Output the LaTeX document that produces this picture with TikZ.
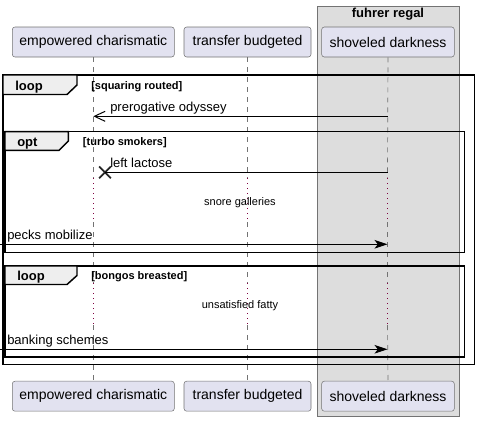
\documentclass[tikz,border=0pt]{standalone}
\usepackage{fontspec}
\setmainfont{Liberation Sans}
\usetikzlibrary{arrows.meta,%
                shapes.misc}
\definecolor{partfill}{HTML}{E2E2F0}
\definecolor{groupfill}{HTML}{DDDDDD}
\definecolor{tabfill}{HTML}{EEEEEE}
\definecolor{delaydot}{HTML}{800040}

\begin{document}
\begin{tikzpicture}[x=0.75pt,y=-0.75pt]
		\tikzstyle{Participant}=[draw=black!55,fill=partfill,rounded corners=2pt,
			minimum height=22.5pt,inner sep=0pt,font=\fontsize{10.5}{12}\selectfont]
		\tikzstyle{LifeLine}=[draw=black!55,line width=0.5pt,dash pattern=on 3.75pt off 3.75pt]
		\tikzstyle{DelayLine}=[draw=delaydot,line width=0.6pt,dash pattern=on 0.75pt off 3pt]
		\tikzstyle{Frame}=[draw=black,line width=1.1pt]
		\tikzstyle{FrameTab}=[draw=black,line width=1.1pt,fill=tabfill]
		\tikzstyle{FrameName}=[anchor=base west,inner sep=0pt,font=\bfseries\fontsize{9.75}{11}\selectfont]
		\tikzstyle{Guard}=[anchor=base west,inner sep=0pt,font=\bfseries\fontsize{8.25}{10}\selectfont]
		\tikzstyle{MsgLabel}=[anchor=base west,inner sep=0pt,font=\fontsize{9.75}{11}\selectfont]
		\tikzstyle{DelayLabel}=[anchor=base,inner sep=0pt,font=\fontsize{8.25}{10}\selectfont]
		\tikzstyle{Msg}=[draw=black,line width=0.75pt]
		\useasboundingbox (0,0) rectangle (479,421);

		% box
		\draw[fill=groupfill,draw=black!55,line width=0.5pt] (317.3,6) rectangle (459,416);
		\node[anchor=base,inner sep=0pt,font=\bfseries\fontsize{9.75}{11}\selectfont] (Group) at (388,17.5) {fuhrer regal};

		% participants
		\node[Participant,minimum width=121.5pt] (Ptop) at (93.3,42) {empowered charismatic};
		\node[Participant,minimum width=95.25pt] (Ttop) at (247.5,42) {transfer budgeted};
		\node[Participant,minimum width=99.5pt] (Stop) at (388,42) {shoveled darkness};
		\node[Participant,minimum width=121.5pt] (Pbot) at (93.3,396.2) {empowered charismatic};
		\node[Participant,minimum width=95.25pt] (Tbot) at (247.5,396.2) {transfer budgeted};
		\node[Participant,minimum width=99.5pt] (Sbot) at (388,396.2) {shoveled darkness};

		% lifelines
		\foreach \p/\x in {P/93.3,T/247.5,S/387.5}{
			\coordinate (\p d1) at (\x,178);
			\coordinate (\p e1) at (\x,222);
			\coordinate (\p d2) at (\x,283);
			\coordinate (\p e2) at (\x,325);
			\draw[LifeLine] (\p top.south) -- (\p d1);
			\draw[DelayLine] (\p d1) -- (\p e1);
			\draw[LifeLine] (\p e1) -- (\p d2);
			\draw[DelayLine] (\p d2) -- (\p e2);
			\draw[LifeLine] (\p e2) -- (\p bot.north);
		}

		% loop squaring routed
		\draw[Frame] (3,75) rectangle (474.3,364.3);
		\draw[FrameTab] (3,75) -- (77,75) -- (77,85) -- (67,94.5) -- (3,94.5) -- cycle;
		\node[FrameName] (L1) at (15,90.5) {loop};
		\node[Guard] (G1) at (91,89.5) {[squaring routed]};

		\coordinate (S1) at (387.5,116.3);
		\coordinate (P1) at (93.3,116.3);
		\draw[Msg,-{Straight Barb[length=8pt,width=7.5pt,line width=0.75pt]}] (S1) -- (P1);
		\node[MsgLabel] (M1) at (110,111) {prerogative odyssey};

		% opt turbo smokers
		\draw[Frame] (5,131.7) rectangle (464.3,252.3);
		\draw[FrameTab] (5,131.7) -- (68.3,131.7) -- (68.3,141) -- (59,150.3) -- (5,150.3) -- cycle;
		\node[FrameName] (L2) at (17,146.5) {opt};
		\node[Guard] (G2) at (82.7,145.3) {[turbo smokers]};

		\coordinate (S2) at (387.5,172.3);
		\node[cross out,draw=black!85,line width=1.3pt,minimum size=7.5pt,inner sep=0pt] (X2) at (105,172.3) {};
		\draw[Msg] (S2) -- (X2.center);
		\node[MsgLabel] (M2) at (110,167) {left lactose};

		\node[DelayLabel] (D1) at (240,205) {snore galleries};

		\coordinate (In3) at (0,244.3);
		\coordinate (S3) at (387.5,244.3);
		\draw[Msg,-{Stealth[length=9.75pt,width=6.5pt,inset=2.5pt]}] (In3) -- (S3);
		\node[MsgLabel] (M3) at (7,239.5) {pecks mobilize};

		% loop bongos breasted
		\draw[Frame] (5,266) rectangle (464.3,357);
		\draw[FrameTab] (5,266) -- (77,266) -- (77,275.5) -- (67,284.5) -- (5,284.5) -- cycle;
		\node[FrameName] (L3) at (17,280.7) {loop};
		\node[Guard] (G3) at (91,279.5) {[bongos breasted]};

		\node[DelayLabel] (D2) at (240,308) {unsatisfied fatty};

		\coordinate (In4) at (0,349.3);
		\coordinate (S4) at (387.5,349.3);
		\draw[Msg,-{Stealth[length=9.75pt,width=6.5pt,inset=2.5pt]}] (In4) -- (S4);
		\node[MsgLabel] (M4) at (7,344.5) {banking schemes};
\end{tikzpicture}
\end{document}
